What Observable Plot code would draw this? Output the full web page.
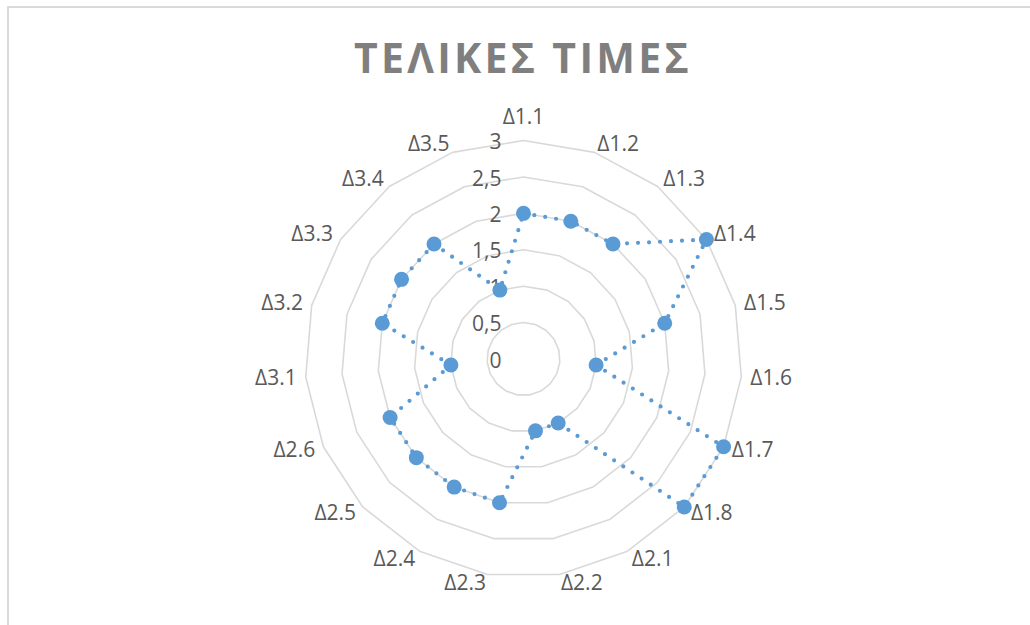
<!DOCTYPE html>
<html>
<head>
<meta charset="utf-8">
<script src="https://cdn.jsdelivr.net/npm/d3@7"></script>
<script src="https://cdn.jsdelivr.net/npm/@observablehq/plot@0.6"></script>
<style>
  html, body { margin: 0; padding: 0; background: #fff; }
  #wrap { position: relative; width: 1030px; height: 625px; overflow: hidden; }
  #border { position: absolute; left: 7px; top: 6px; width: 1200px; height: 800px; border: 2px solid #dadada; box-sizing: border-box; }
  #title { position: absolute; left: 0; top: 0; width: 1030px; height: 95px; text-align: center;
           font-family: "Open Sans", sans-serif; font-weight: 700; font-size: 41px; letter-spacing: 3.3px;
           color: #7f7f7f; line-height: 114px; padding-left: 16px; box-sizing: border-box; }
  #chart { position: absolute; left: 0; top: 95px; }
</style>
</head>
<body>
<div id="wrap">
  <div id="border"></div>
  <div id="title">ΤΕΛΙΚΕΣ ΤΙΜΕΣ</div>
  <div id="chart"></div>
</div>
<script>
// ---- data ----
const categories = ["Δ1.1","Δ1.2","Δ1.3","Δ1.4","Δ1.5","Δ1.6","Δ1.7","Δ1.8",
                    "Δ2.1","Δ2.2","Δ2.3","Δ2.4","Δ2.5","Δ2.6",
                    "Δ3.1","Δ3.2","Δ3.3","Δ3.4","Δ3.5"];
const values = [2,2,2,3,2,1,3,3,1,1,2,2,2,2,1,2,2,2,1];
const tickValues = [0,0.5,1,1.5,2,2.5,3];
const tickLabels = ["0","0,5","1","1,5","2","2,5","3"];
const maxValue = 3;

// ---- layout ----
const W = 1030, H = 530;
const cx = 523, cy = 263.5;          // centre in SVG pixels
const k = 218.5 / maxValue;           // pixels per unit
const n = categories.length;
const ang = i => 2 * Math.PI * i / n;
const px = (r, i) => r * Math.sin(ang(i));
const py = (r, i) => r * Math.cos(ang(i));

// rings
const rings = [];
for (const lv of tickValues.filter(v => v > 0)) {
  for (let i = 0; i <= n; i++) rings.push({level: lv, x: px(lv, i % n), y: py(lv, i % n)});
}
// series
const pts = values.map((v, i) => ({cat: categories[i], v, x: px(v, i), y: py(v, i)}));
const seriesPath = pts.concat([pts[0]]);
// category labels
const off = 9 / k;
const catLabels = categories.map((c, i) => {
  const s = Math.sin(ang(i)), co = Math.cos(ang(i));
  const anchor = s > 0.05 ? "start" : s < -0.05 ? "end" : "middle";
  const extra = anchor === "middle" ? 14 / k * co : 0;
  return {label: c, x: (maxValue + off) * s, y: (maxValue + off) * co + extra, anchor};
});
const ticks = tickValues.map((v, i) => ({label: tickLabels[i], x: -22 / k, y: v - 2 / k}));

const font = "'Open Sans', sans-serif";
const textOpts = {fontSize: 21, fill: "#595959", fontFamily: font};

const chart = Plot.plot({
  width: W, height: H, margin: 0,
  x: {domain: [-cx / k, (W - cx) / k], axis: null},
  y: {domain: [-(H - cy) / k, cy / k], axis: null},
  marks: [
    Plot.line(rings, {x: "x", y: "y", z: "level", stroke: "#d9d9d9", strokeWidth: 1.6}),
    Plot.text(ticks, {x: "x", y: "y", text: "label", textAnchor: "end", ...textOpts}),
    Plot.text(catLabels.filter(d => d.anchor === "start"), {x: "x", y: "y", text: "label", textAnchor: "start", ...textOpts}),
    Plot.text(catLabels.filter(d => d.anchor === "end"), {x: "x", y: "y", text: "label", textAnchor: "end", ...textOpts}),
    Plot.text(catLabels.filter(d => d.anchor === "middle"), {x: "x", y: "y", text: "label", textAnchor: "middle", ...textOpts}),
    Plot.line(seriesPath, {x: "x", y: "y", stroke: "#5b9bd5", strokeWidth: 4.2, strokeDasharray: "0 11", strokeLinecap: "round"}),
    Plot.dot(pts, {x: "x", y: "y", r: 7.5, fill: "#5b9bd5", stroke: "none"})
  ]
});
document.getElementById("chart").appendChild(chart);
</script>
</body>
</html>
